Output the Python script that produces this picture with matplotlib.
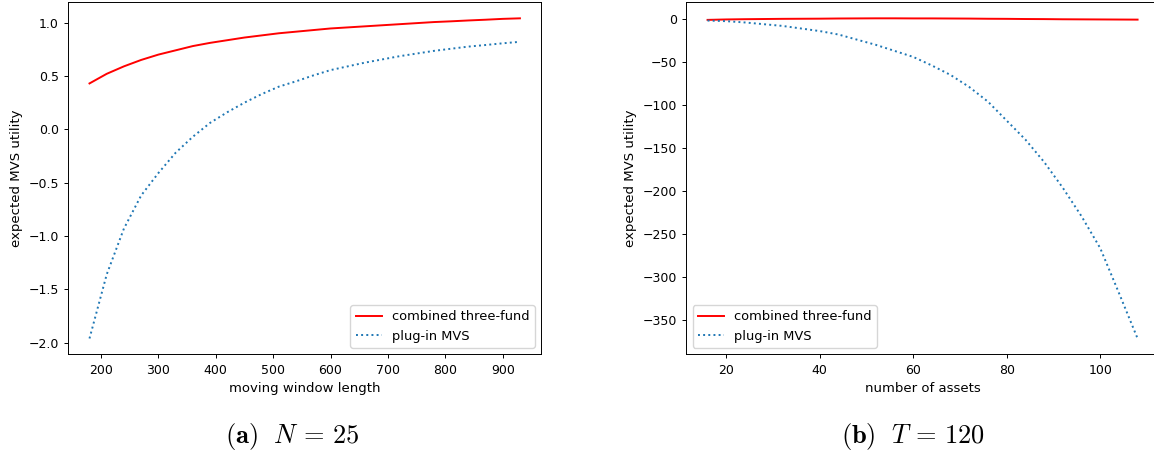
import numpy as np
import matplotlib.pyplot as plt

plt.rcParams['mathtext.fontset'] = 'cm'
plt.rcParams['font.size'] = 9.0

# (a) N = 25: utility vs moving window length
window = [180, 210, 240, 270, 300, 330, 360, 390, 420, 450, 480, 510, 540,
          570, 600, 630, 660, 690, 720, 750, 780, 810, 840, 870, 900, 930]
three_fund_a = [0.43, 0.52, 0.59, 0.65, 0.70, 0.74, 0.78, 0.81, 0.835, 0.86,
                0.88, 0.90, 0.915, 0.93, 0.945, 0.955, 0.965, 0.975, 0.985,
                0.995, 1.005, 1.012, 1.02, 1.027, 1.035, 1.04]
plugin_a = [-1.96, -1.36, -0.93, -0.62, -0.41, -0.22, -0.07, 0.06, 0.16, 0.25,
            0.33, 0.40, 0.45, 0.505, 0.555, 0.59, 0.625, 0.655, 0.685, 0.71,
            0.735, 0.755, 0.775, 0.79, 0.806, 0.82]

# (b) T = 120: utility vs number of assets
assets = [16, 20, 24, 28, 32, 36, 40, 44, 48, 52, 56, 60, 64, 68, 72, 76,
          80, 84, 88, 92, 96, 100, 104, 108]
three_fund_b = [-1.0, -0.5, -0.2, 0.0, 0.2, 0.3, 0.4, 0.6, 0.7, 0.8, 0.8, 0.7,
                0.7, 0.6, 0.5, 0.3, 0.2, 0.0, -0.1, -0.3, -0.4, -0.5, -0.6, -0.7]
plugin_b = [-1.8, -2.5, -4, -6, -8, -11, -14, -18, -24, -30, -37, -44, -54,
            -65, -79, -96, -118, -140, -166, -196, -229, -266, -318, -371]

fig = plt.figure(figsize=(11.54, 4.55), dpi=100)
ax1 = fig.add_axes([0.0589, 0.2209, 0.4103, 0.774])
ax2 = fig.add_axes([0.5945, 0.2209, 0.4099, 0.774])

lw = 1.4
ax1.plot(window, three_fund_a, color='red', lw=lw, label='combined three-fund')
ax1.plot(window, plugin_a, ':', color='tab:blue', lw=lw, label='plug-in MVS')
ax1.set_xlabel('moving window length', fontsize=9.5)
ax1.set_ylabel('expected MVS utility', fontsize=9.5)
ax1.legend(loc='lower right', fontsize=9.4)

ax2.plot(assets, three_fund_b, color='red', lw=lw, label='combined three-fund')
ax2.plot(assets, plugin_b, ':', color='tab:blue', lw=lw, label='plug-in MVS')
ax2.set_xlabel('number of assets', fontsize=9.5)
ax2.set_ylabel('expected MVS utility', fontsize=9.5)
ax2.legend(loc='lower left', fontsize=9.4)

for ax in (ax1, ax2):
    ax.tick_params(length=3, width=0.7)
    for s in ax.spines.values():
        s.set_linewidth(0.7)

fig.text(292 / 1154, 0.04, r'$\mathbf{(a)}\ \ N\,=\,25$', ha='center', va='center', fontsize=19)
fig.text(913 / 1154, 0.04, r'$\mathbf{(b)}\ \ T\,=\,120$', ha='center', va='center', fontsize=19)

fig.savefig('out.png', dpi=100)
